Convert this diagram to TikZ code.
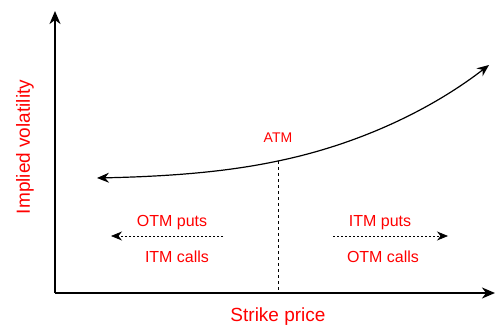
\documentclass[tikz,border=0pt]{standalone}
\usepackage{fontspec}
\setsansfont{Liberation Sans}
\usetikzlibrary{arrows.meta}
\usetikzlibrary{positioning}

\begin{document}
\begin{tikzpicture}[
    x=1pt, y=1pt,
    >=Stealth,
    axis/.style={line width=1.8pt, -{Stealth[length=13pt,width=11pt,inset=4pt]}},
    smile/.style={line width=1.2pt, {Stealth[length=12pt,width=10pt,inset=4pt]}-{Stealth[length=12pt,width=10pt,inset=4pt]}},
    side/.style={dash pattern=on 2pt off 2pt, line width=0.8pt, -{Stealth[length=11pt,width=9pt,inset=3.5pt]}},
    label/.style={text=red, font=\sffamily\fontsize{16}{18}\selectfont, inner sep=1pt},
    axislabel/.style={text=red, font=\sffamily\fontsize{19}{22}\selectfont, inner sep=1pt}
]
\useasboundingbox (0,0) rectangle (495,327);

% Points
\coordinate (origin) at (55,34);
\coordinate (ytop) at (55,316);
\coordinate (xend) at (495,34);
\coordinate (smileL) at (97,149);
\coordinate (atm) at (278,166);
\coordinate (smileR) at (489,262);
\coordinate (atmfoot) at (278,34);
\coordinate (leftA) at (223,91);
\coordinate (leftB) at (111,91);
\coordinate (rightA) at (333,91);
\coordinate (rightB) at (448,91);

% Labels
\node[label, font=\sffamily\fontsize{14}{16}\selectfont] (atmtext) at (278,189) {ATM};
\node[label] (otmputs) at (172,104) {OTM puts};
\node[label] (itmcalls) at (177,70) {ITM calls};
\node[label] (itmputs) at (380,104) {ITM puts};
\node[label] (otmcalls) at (383,70) {OTM calls};
\node[axislabel] (strike) at (278,10) {Strike price};
\node[axislabel, rotate=90] (vol) at (25,180) {Implied volatility};

% Axes
\draw[axis] (origin) -- (ytop);
\draw[axis] (origin) -- (xend);

% Smile
\draw[smile] (smileL) .. controls (190,151) and (240,158) .. (atm)
    .. controls (360,183) and (432,218) .. (smileR);
\draw[dashed, line width=0.8pt] (atm) -- (atmfoot);

% Sides
\draw[side] (leftA) -- (leftB);
\draw[side] (rightA) -- (rightB);

\end{tikzpicture}
\end{document}
